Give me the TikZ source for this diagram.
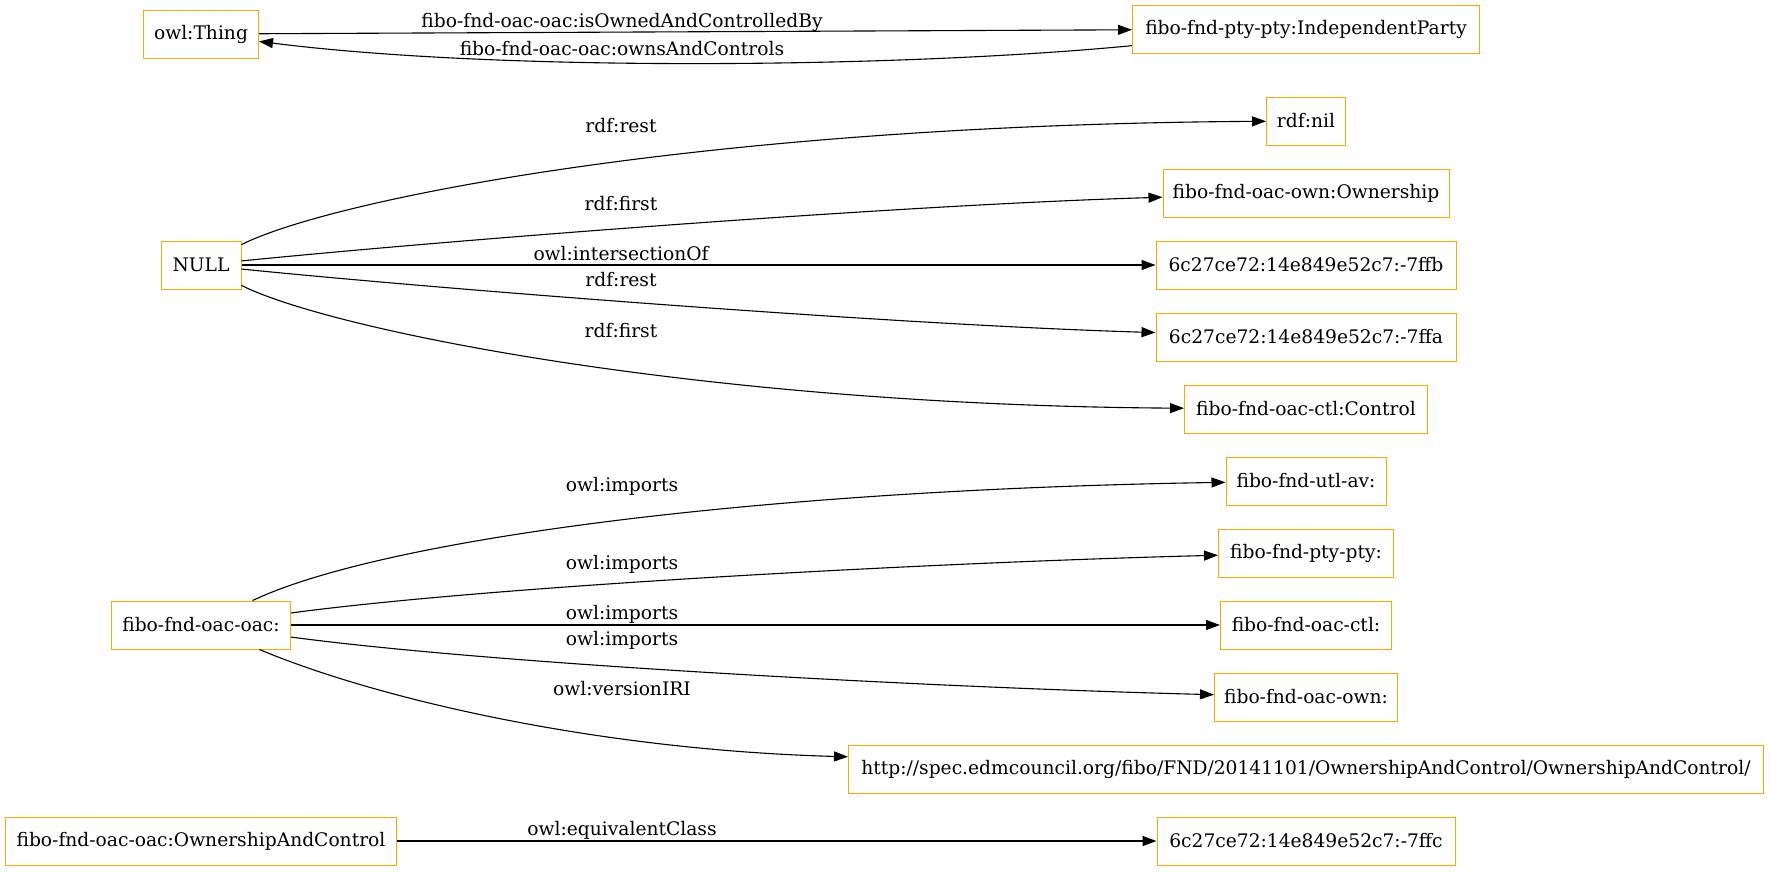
\documentclass[tikz,border=0pt]{standalone}
\usepackage{fontspec}
\setmainfont{DejaVu Serif}
\usepackage{tikz}
\usetikzlibrary{arrows.meta}
\definecolor{gvorange}{HTML}{FFA500}

\tikzset{
  cls/.style={draw=gvorange, line width=1pt, minimum height=48pt, inner xsep=4pt,
    font=\fontsize{18.67}{22}\selectfont},
  rel/.style={-{Triangle[length=14pt,width=10pt]}, line width=1.1pt},
  lbl/.style={inner sep=0pt, font=\fontsize{18.67}{22}\selectfont}
}

\begin{document}
\begin{tikzpicture}[x=1pt,y=-1pt]
\useasboundingbox (0,0) rectangle (1771,871);

% left column
\node[cls, minimum width=115pt] (thing) at (201,34) {owl:Thing};
\node[cls, minimum width=80pt] (null) at (201,265) {NULL};
\node[cls, minimum width=179pt] (oacoac) at (201,625) {fibo-fnd-oac-oac:};
\node[cls, minimum width=391pt] (oacclass) at (201,841) {fibo-fnd-oac-oac:OwnershipAndControl};

% right column
\node[cls, minimum width=347pt] (indep) at (1306,29) {fibo-fnd-pty-pty:IndependentParty};
\node[cls, minimum width=79pt] (rdfnil) at (1306,121) {rdf:nil};
\node[cls, minimum width=286pt] (ownership) at (1306,193) {fibo-fnd-oac-own:Ownership};
\node[cls, minimum width=300pt] (ffb) at (1306,265) {6c27ce72:14e849e52c7:-7ffb};
\node[cls, minimum width=300pt] (ffa) at (1306,337) {6c27ce72:14e849e52c7:-7ffa};
\node[cls, minimum width=243pt] (control) at (1306,409) {fibo-fnd-oac-ctl:Control};
\node[cls, minimum width=160pt] (utlav) at (1306,481) {fibo-fnd-utl-av:};
\node[cls, minimum width=175pt] (ptypty) at (1306,553) {fibo-fnd-pty-pty:};
\node[cls, minimum width=171pt] (oacctl) at (1306,625) {fibo-fnd-oac-ctl:};
\node[cls, minimum width=183pt] (oacown) at (1306,697) {fibo-fnd-oac-own:};
\node[cls, minimum width=915pt] (version) at (1306,769) {http://spec.edmcouncil.org/fibo/FND/20141101/OwnershipAndControl/OwnershipAndControl/};
\node[cls, minimum width=298pt] (ffc) at (1306,841) {6c27ce72:14e849e52c7:-7ffc};

% edges
\draw[rel] (thing) -- (indep);
\draw[rel] (indep) .. controls (900,68) and (500,72) .. (thing);

\draw[rel] (null) .. controls (330,200) and (700,125) .. (rdfnil);
\draw[rel] (null) .. controls (450,240) and (900,205) .. (ownership);
\draw[rel] (null) -- (ffb);
\draw[rel] (null) .. controls (450,290) and (900,325) .. (ffa);
\draw[rel] (null) .. controls (330,330) and (700,405) .. (control);

\draw[rel] (oacoac) .. controls (380,540) and (750,490) .. (utlav);
\draw[rel] (oacoac) .. controls (500,585) and (950,562) .. (ptypty);
\draw[rel] (oacoac) -- (oacctl);
\draw[rel] (oacoac) .. controls (500,665) and (950,688) .. (oacown);
\draw[rel] (oacoac) .. controls (380,700) and (600,750) .. (version);

\draw[rel] (oacclass) -- (ffc);

% edge labels
\node[lbl] (lowned) at (622,22) {fibo-fnd-oac-oac:isOwnedAndControlledBy};
\node[lbl] (lowns) at (622,49) {fibo-fnd-oac-oac:ownsAndControls};
\node[lbl] (lrest) at (621,126) {rdf:rest};
\node[lbl] (lfirst) at (621,204) {rdf:first};
\node[lbl] (linter) at (621,254) {owl:intersectionOf};
\node[lbl] (lrestb) at (621,280) {rdf:rest};
\node[lbl] (lfirstb) at (621,331) {rdf:first};
\node[lbl] (limpa) at (622,486) {owl:imports};
\node[lbl] (limpb) at (622,564) {owl:imports};
\node[lbl] (limpc) at (622,614) {owl:imports};
\node[lbl] (limpd) at (622,640) {owl:imports};
\node[lbl] (lversion) at (622,689) {owl:versionIRI};
\node[lbl] (lequiv) at (622,830) {owl:equivalentClass};
\end{tikzpicture}
\end{document}
